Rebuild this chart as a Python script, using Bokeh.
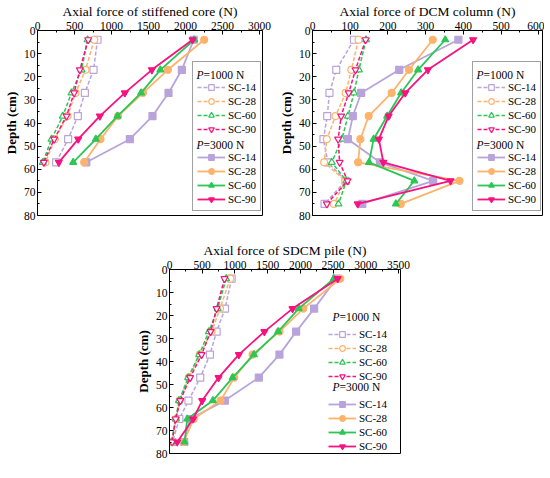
from bokeh.plotting import figure
from bokeh.models import Range1d, FixedTicker, Legend, LegendItem, Label, Spacer
from bokeh.layouts import row, column
from bokeh.embed import file_html
from bokeh.resources import INLINE

FONT = "Liberation Serif"

series_names = ["SC-14", "SC-28", "SC-60", "SC-90"]
load_titles = ["=1000 N", "=3000 N"]
depth_ticks = [0, 10, 20, 30, 40, 50, 60, 70, 80]

# ---- (a) stiffened core ----
depth_a = [4, 17, 27, 37, 47, 57]
a_1000_sc14 = [811, 757, 640, 545, 414, 252]
a_1000_sc28 = [766, 649, 514, 405, 234, 108]
a_1000_sc60 = [676, 595, 459, 342, 189, 72]
a_1000_sc90 = [685, 572, 495, 392, 225, 86]
a_3000_sc14 = [2110, 1950, 1770, 1554, 1248, 660]
a_3000_sc28 = [2252, 1762, 1425, 1090, 851, 631]
a_3000_sc60 = [2117, 1660, 1400, 1080, 788, 482]
a_3000_sc90 = [2095, 1545, 1180, 842, 550, 288]
xticks_a = [0, 500, 1000, 1500, 2000, 2500, 3000]

# ---- (b) DCM column ----
depth_b = [4, 17, 27, 37, 47, 57, 65, 75]
b_1000_sc14 = [110, 63, 45, 39, 29, 41, 88, 32]
b_1000_sc28 = [122, 103, 88, 61, 38, 31, 87, 57]
b_1000_sc60 = [142, 123, 110, 94, 78, 51, 90, 69]
b_1000_sc90 = [141, 114, 96, 76, 68, 72, 93, 38]
b_3000_sc14 = [387, 230, 129, 107, 94, 179, 320, 132]
b_3000_sc28 = [319, 256, 210, 149, 127, 121, 390, 234]
b_3000_sc60 = [352, 280, 235, 198, 162, 150, 270, 221]
b_3000_sc90 = [426, 306, 246, 202, 176, 188, 366, 120]
xticks_b = [0, 100, 200, 300, 400, 500, 600]

# ---- (c) SDCM pile ----
depth_c = [4, 17, 27, 37, 47, 57, 65, 75]
c_1000_sc14 = [950, 848, 720, 618, 470, 290, 150, 45]
c_1000_sc28 = [928, 772, 643, 464, 295, 155, 100, 35]
c_1000_sc60 = [865, 736, 602, 454, 285, 145, 95, 30]
c_1000_sc90 = [840, 720, 628, 490, 315, 165, 93, 40]
c_3000_sc14 = [2550, 2210, 1935, 1680, 1365, 846, 311, 225]
c_3000_sc28 = [2610, 2045, 1680, 1270, 990, 780, 370, 215]
c_3000_sc60 = [2510, 1975, 1660, 1290, 965, 663, 271, 230]
c_3000_sc90 = [2570, 1880, 1450, 1060, 750, 500, 360, 118]
xticks_c = [0, 500, 1000, 1500, 2000, 2500, 3000, 3500]

COLORS = ["#B8A4DB", "#FDB36C", "#2CC656", "#F7127F"]
MARKERS = ["square", "circle", "triangle", "inverted_triangle"]

ROW_H = 14
PAD = 4


def mids(t):
    return [(t[i] + t[i + 1]) / 2 for i in range(len(t) - 1)]


def make_panel(title, depth, s1000, s3000, xmax, xticks, frame_w, frame_h,
               bl, br, bt, bb, leg_xy, boxed, plabel, plabel_xy):
    p = figure(frame_width=frame_w, frame_height=frame_h,
               x_range=Range1d(0, xmax), y_range=Range1d(80, 0),
               x_axis_location="above", output_backend="svg",
               toolbar_location=None, min_border_left=bl, min_border_right=br,
               min_border_top=bt, min_border_bottom=bb)
    p.background_fill_color = "white"
    p.border_fill_color = "white"
    p.outline_line_color = "black"
    p.outline_line_width = 1
    p.outline_line_alpha = 1
    p.xgrid.visible = False
    p.ygrid.visible = False

    p.xaxis.ticker = FixedTicker(ticks=xticks, minor_ticks=mids(xticks))
    p.yaxis.ticker = FixedTicker(ticks=depth_ticks, minor_ticks=mids(depth_ticks))
    p.xaxis.axis_label = title
    p.yaxis.axis_label = "Depth (cm)"
    for ax in (p.xaxis[0], p.yaxis[0]):
        ax.axis_line_color = "black"
        ax.major_tick_line_color = "black"
        ax.minor_tick_line_color = "black"
        ax.major_tick_in = 4
        ax.major_tick_out = 0
        ax.minor_tick_in = 2
        ax.minor_tick_out = 0
        ax.major_label_text_font = FONT
        ax.major_label_text_font_size = "11.5px"
        ax.major_label_text_color = "black"
        ax.axis_label_text_font = FONT
        ax.axis_label_text_color = "black"
    p.xaxis.axis_label_text_font_size = "13.5px"
    p.xaxis.axis_label_text_font_style = "normal"
    p.yaxis.axis_label_text_font_size = "13px"
    p.yaxis.axis_label_text_font_style = "bold"
    p.xaxis.major_label_standoff = 1
    p.xaxis.axis_label_standoff = 0
    p.yaxis.major_label_standoff = 2
    p.yaxis.axis_label_standoff = 2

    items = []
    for group, dashed in ((s1000, True), (s3000, False)):
        hdr = p.line(x=[], y=[], line_alpha=0)
        items.append(LegendItem(label=" ", renderers=[hdr]))
        for i, vals in enumerate(group):
            c = COLORS[i]
            lr = p.line(x=vals, y=depth, line_color=c,
                        line_width=1.5 if dashed else 1.8,
                        line_dash="4 2" if dashed else "solid")
            sr = p.scatter(x=vals, y=depth, marker=MARKERS[i], size=7,
                           line_color=c, line_width=1.2,
                           fill_color="white" if dashed else c)
            items.append(LegendItem(label=series_names[i], renderers=[lr, sr]))

    vx, vy = leg_xy
    leg = Legend(items=items, location=(vx, vy), orientation="vertical",
                 label_text_font=FONT, label_text_font_size="11px",
                 label_text_color="black",
                 glyph_width=28, glyph_height=ROW_H, label_height=ROW_H,
                 label_standoff=3, spacing=0, padding=PAD, margin=0,
                 border_line_color="#444444" if boxed else None,
                 border_line_width=1,
                 background_fill_alpha=0)
    p.add_layout(leg)

    leg_h = 2 * PAD + 10 * ROW_H
    for k, txt in enumerate(load_titles):
        yc = vy + leg_h - PAD - ROW_H * (5 * k) - ROW_H / 2
        p.add_layout(Label(x=vx + PAD, y=yc, x_units="screen", y_units="screen",
                           text="P", text_font=FONT, text_font_size="11.5px",
                           text_font_style="italic", text_baseline="middle",
                           text_align="left", text_color="black"))
        p.add_layout(Label(x=vx + PAD + 7.1, y=yc, x_units="screen", y_units="screen",
                           text=txt, text_font=FONT, text_font_size="11.5px",
                           text_baseline="middle", text_align="left",
                           text_color="black"))

    p.add_layout(Label(x=plabel_xy[0], y=plabel_xy[1], x_units="screen", y_units="screen",
                       text=plabel, text_font=FONT, text_font_size="12.5px",
                       text_baseline="middle", text_align="left", text_color="black"))
    return p


pa = make_panel("Axial force of stiffened core (N)", depth_a,
                [a_1000_sc14, a_1000_sc28, a_1000_sc60, a_1000_sc90],
                [a_3000_sc14, a_3000_sc28, a_3000_sc60, a_3000_sc90],
                3040, xticks_a, 225, 185, 31, 13, 24, 24,
                (155, 4), True, "(a)", (-31, -13))

pb = make_panel("Axial force of DCM column (N)", depth_b,
                [b_1000_sc14, b_1000_sc28, b_1000_sc60, b_1000_sc90],
                [b_3000_sc14, b_3000_sc28, b_3000_sc60, b_3000_sc90],
                610, xticks_b, 230, 185, 31, 2, 24, 24,
                (160, 4), True, "(b)", (-31, -13))

pc = make_panel("Axial force of SDCM pile (N)", depth_c,
                [c_1000_sc14, c_1000_sc28, c_1000_sc60, c_1000_sc90],
                [c_3000_sc14, c_3000_sc28, c_3000_sc60, c_3000_sc90],
                3530, xticks_c, 231, 184, 31, 10, 27, 16,
                (159, 0), False, "(c)", (-8, -9))

layout = column(row(pa, pb), row(Spacer(width=132, height=10), pc))

open("out.html", "w").write(file_html(layout, INLINE))
